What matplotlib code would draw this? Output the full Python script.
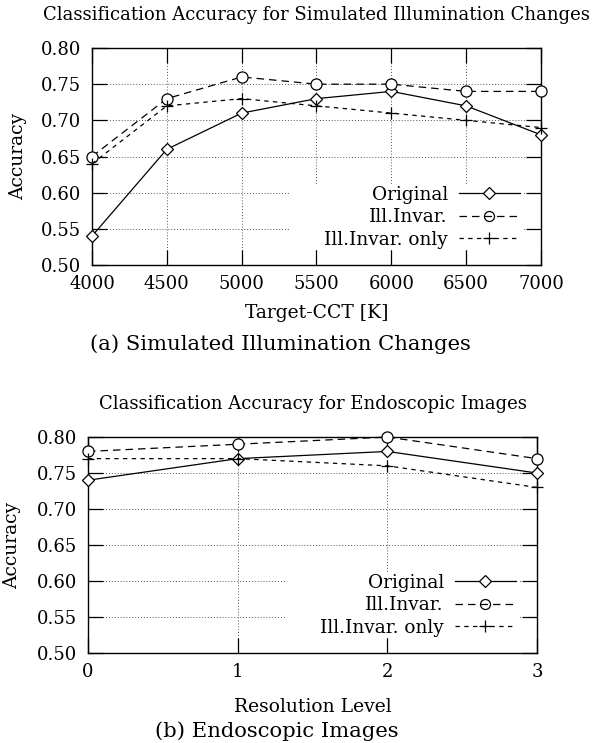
import numpy as np
import matplotlib
matplotlib.use("Agg")
import matplotlib.pyplot as plt
from matplotlib.lines import Line2D
from matplotlib.patches import Rectangle

plt.rcParams['font.family'] = ['DejaVu Serif']

# (a) simulated illumination changes
cct = [4000, 4500, 5000, 5500, 6000, 6500, 7000]
acc_orig_a = [0.54, 0.66, 0.71, 0.73, 0.74, 0.72, 0.68]
acc_inv_a = [0.65, 0.73, 0.76, 0.75, 0.75, 0.74, 0.74]
acc_only_a = [0.64, 0.72, 0.73, 0.72, 0.71, 0.70, 0.69]

# (b) endoscopic images
levels = [0, 1, 2, 3]
acc_orig_b = [0.74, 0.77, 0.78, 0.75]
acc_inv_b = [0.78, 0.79, 0.80, 0.77]
acc_only_b = [0.77, 0.77, 0.76, 0.73]

yticks = [0.50, 0.55, 0.60, 0.65, 0.70, 0.75, 0.80]
labels = ["Original", "Ill.Invar.", "Ill.Invar. only"]

styles = [
    dict(ls='-', marker='D', ms=6.5),
    dict(ls=(0, (6, 4)), marker='o', ms=8),
    dict(ls=(0, (3.5, 3.5)), marker='+', ms=9),
]


def draw_panel(ax, x, series, title, xlabel, xlab_y, ylab_x):
    ax.set_axisbelow(True)
    ax.grid(True, ls=(0, (1, 2)), lw=0.7, color='#555555')
    # blank area behind the key, like gnuplot's opaque key box
    ax.add_patch(Rectangle((0.441, 0.069), 0.521, 0.30, transform=ax.transAxes,
                           facecolor='white', edgecolor='none', zorder=1))
    for ys, st in zip(series, styles):
        ax.plot(x, ys, color='black', lw=0.9, ls=st['ls'], marker=st['marker'],
                ms=st['ms'], mfc='white', mec='black', mew=0.9, zorder=3,
                clip_on=False)
    ax.set_xlim(min(x), max(x))
    ax.set_ylim(0.50, 0.80)
    ax.set_xticks(x)
    ax.set_yticks(yticks)
    ax.set_yticklabels([f"{v:.2f}" for v in yticks])
    ax.tick_params(direction='in', length=11, width=0.9, top=True, right=True,
                   labelsize=13)
    ax.tick_params(axis='x', pad=7)
    ax.tick_params(axis='y', pad=8)
    for sp in ax.spines.values():
        sp.set_linewidth(1.0)
    ax.text(0.5, 1.152, title, transform=ax.transAxes, ha='center', va='center',
            fontsize=13)
    ax.set_xlabel(xlabel, fontsize=13.5, va='center')
    ax.xaxis.set_label_coords(0.5, xlab_y)
    ax.set_ylabel("Accuracy", fontsize=13.5, va='center')
    ax.yaxis.set_label_coords(ylab_x, 0.5)

    handles = []
    for st, lab in zip(styles, labels):
        mfc = 'none' if st['marker'] == 'o' else 'white'
        handles.append(Line2D([], [], color='black', lw=0.9, ls=st['ls'],
                              marker=st['marker'], ms=st['ms'] * 0.9, mfc=mfc,
                              mec='black', mew=0.9, label=lab))
    leg = ax.legend(handles=handles, loc='lower right', bbox_to_anchor=(0.953, 0.075),
                    frameon=False, markerfirst=False, handlelength=3.3,
                    handletextpad=0.6, labelspacing=0.25, fontsize=13.3,
                    borderaxespad=0.0, borderpad=0.0)
    leg.set_zorder(4)


fig = plt.figure(figsize=(5.95, 7.43), dpi=100)

ax1 = fig.add_axes([0.1546, 0.6433, 0.7546, 0.2921])
draw_panel(ax1, cct, [acc_orig_a, acc_inv_a, acc_only_a],
           "Classification Accuracy for Simulated Illumination Changes",
           "Target-CCT [K]", -0.221, -0.165)
fig.text(280 / 595, 1 - 344 / 743, "(a) Simulated Illumination Changes",
         ha='center', va='center', fontsize=15.2)

ax2 = fig.add_axes([0.1479, 0.1211, 0.7546, 0.2907])
draw_panel(ax2, levels, [acc_orig_b, acc_inv_b, acc_only_b],
           "Classification Accuracy for Endoscopic Images",
           "Resolution Level", -0.25, -0.169)
fig.text(277 / 595, 1 - 731 / 743, "(b) Endoscopic Images",
         ha='center', va='center', fontsize=15.2)

fig.savefig("out.png", dpi=100)
